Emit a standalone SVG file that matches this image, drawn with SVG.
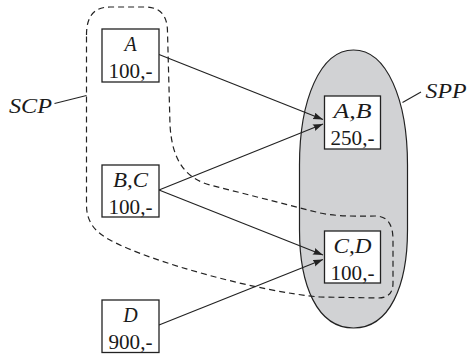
<svg xmlns="http://www.w3.org/2000/svg" width="467" height="354" viewBox="0 0 467 354">
<style>
.box{fill:#fff;stroke:#222;stroke-width:1.3}
.lbl{font-family:'Liberation Serif','Times New Roman',serif;font-size:20px;fill:#1a1a1a;text-anchor:middle}
.it{font-style:italic}
.edge{fill:none;stroke:#222;stroke-width:1.2}
.lead{fill:none;stroke:#222;stroke-width:1.1}
</style>
<defs>
<marker id="ah" markerUnits="userSpaceOnUse" markerWidth="11" markerHeight="8" refX="10" refY="3.5" orient="auto">
<path d="M0,0 L10,3.5 L0,7 Q2.2,3.5 0,0 Z" fill="#222"/>
</marker>
</defs>
<g id="SPP">
<path d="M353.5,50 C387,50 407.5,100 407.5,165 L407.5,230 C407.5,285 390,328 353.5,328 C317,328 299.5,285 299.5,230 L299.5,165 C299.5,100 320,50 353.5,50 Z" fill="#d1d2d4" stroke="#222" stroke-width="1.2"/>
<line class="lead" x1="402.5" y1="102.5" x2="421" y2="92"/>
<text class="lbl it" x="446" y="98" textLength="41" lengthAdjust="spacingAndGlyphs" font-family="Liberation Serif, serif">SPP</text>
</g>
<g id="SCP">
<path d="M86.5,35 C86.5,15 95,7 110,7 L145,7 C160,7 167.5,15 167.5,32 L170,125 C172,160 185,178 210,185 L320,213 C340,217 360,216 375,216 C388,216 393,225 393,240 L393,283 C393,293 388,298 378,298 L320,297 C260,292 150,262 110,240 C95,232 86.5,222 86.5,205 Z" fill="none" stroke="#222" stroke-width="1.2" stroke-dasharray="6 4"/>
<line class="lead" x1="54.5" y1="103.5" x2="86.5" y2="95.5"/>
<text class="lbl it" x="30.5" y="113" textLength="43" lengthAdjust="spacingAndGlyphs">SCP</text>
</g>
<g id="connectors">
<line class="edge" x1="159" y1="54.5" x2="323" y2="119.5" marker-end="url(#ah)"/>
<line class="edge" x1="159" y1="190" x2="323" y2="124" marker-end="url(#ah)"/>
<line class="edge" x1="159" y1="190" x2="323" y2="255" marker-end="url(#ah)"/>
<line class="edge" x1="159" y1="325" x2="323" y2="259.5" marker-end="url(#ah)"/>
</g>
<g id="nodeA">
<rect class="box" x="102" y="29" width="57" height="53"/>
<text class="lbl it" x="130.5" y="51">A</text>
<text class="lbl" x="130.5" y="78" textLength="44" lengthAdjust="spacingAndGlyphs">100,-</text>
</g>
<g id="nodeBC">
<rect class="box" x="102" y="165" width="57" height="52"/>
<text class="lbl it" x="130.5" y="187" textLength="35" lengthAdjust="spacingAndGlyphs">B,C</text>
<text class="lbl" x="130.5" y="214" textLength="44" lengthAdjust="spacingAndGlyphs">100,-</text>
</g>
<g id="nodeD">
<rect class="box" x="102" y="300" width="57" height="52.5"/>
<text class="lbl it" x="130.5" y="322">D</text>
<text class="lbl" x="130.5" y="349" textLength="44" lengthAdjust="spacingAndGlyphs">900,-</text>
</g>
<g id="nodeAB">
<rect class="box" x="324.5" y="96" width="56" height="53"/>
<text class="lbl it" x="352.5" y="118" textLength="38" lengthAdjust="spacingAndGlyphs">A,B</text>
<text class="lbl" x="352.5" y="145" textLength="44" lengthAdjust="spacingAndGlyphs">250,-</text>
</g>
<g id="nodeCD">
<rect class="box" x="324.5" y="231" width="56" height="52"/>
<text class="lbl it" x="352.5" y="253" textLength="38" lengthAdjust="spacingAndGlyphs">C,D</text>
<text class="lbl" x="352.5" y="280" textLength="44" lengthAdjust="spacingAndGlyphs">100,-</text>
</g>
</svg>
